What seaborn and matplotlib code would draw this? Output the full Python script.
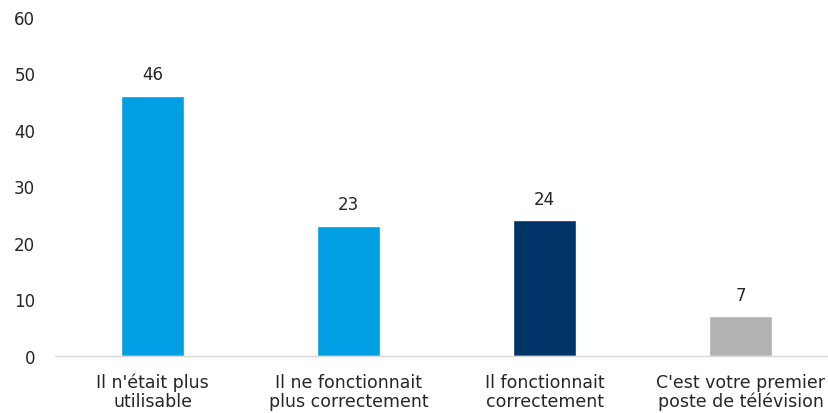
import matplotlib
matplotlib.use("Agg")
import matplotlib.pyplot as plt
import seaborn as sns
import pandas as pd

# data
categories = ["Il n'était plus\nutilisable", "Il ne fonctionnait\nplus correctement",
              "Il fonctionnait\ncorrectement", "C'est votre premier\nposte de télévision"]
values = [46, 23, 24, 7]
colors = ["#009FE3", "#009FE3", "#003366", "#B2B2B2"]

df = pd.DataFrame({"cat": categories, "val": values})

sns.set_style("white")
plt.rcParams["font.family"] = ["DejaVu Sans"]

fig = plt.figure(figsize=(8.29, 4.14), dpi=100)
ax = fig.add_axes([0.066, 0.138, 0.934, 0.819])

sns.barplot(data=df, x="cat", y="val", hue="cat", palette=colors, legend=False,
            width=0.32, saturation=1, ax=ax)

# value labels above the bars
for i, v in enumerate(values):
    ax.text(i, v + 2.2, str(v), ha="center", va="bottom", fontsize=12, color="#262626")

ax.set_ylim(0, 60)
ax.set_yticks(range(0, 61, 10))
ax.set_xlim(-0.5, 3.45)
ax.set_xlabel("")
ax.set_ylabel("")
ax.tick_params(axis="both", length=0, colors="#262626")
ax.tick_params(axis="y", pad=14, labelsize=12)
ax.tick_params(axis="x", pad=12, labelsize=12.5)
for s in ["left", "right", "top"]:
    ax.spines[s].set_visible(False)
ax.spines["bottom"].set_color("#D9D9D9")
ax.spines["bottom"].set_linewidth(1)
for lab in ax.get_xticklabels():
    lab.set_linespacing(1.1)

fig.savefig("out.png", dpi=100)
